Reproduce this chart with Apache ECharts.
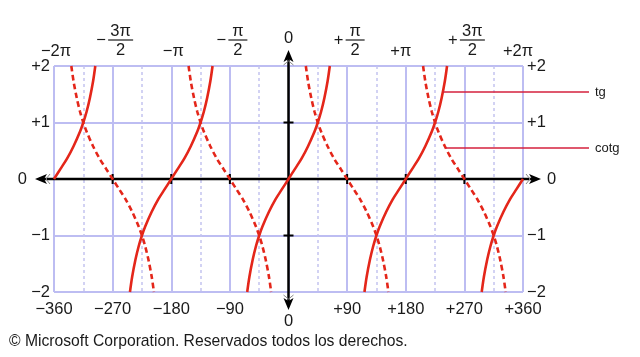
<!DOCTYPE html>
<html><head><meta charset="utf-8">
<script src="https://cdn.jsdelivr.net/npm/echarts@6/dist/echarts.min.js"></script>
<style>html,body{margin:0;padding:0;background:#fff}#c{width:640px;height:357px}</style>
</head><body><div id="c"></div>
<script>
// tick positions (degrees) and labels
const degTicks = [-360,-270,-180,-90,0,90,180,270,360];
const degLabels = ['−360','−270','−180','−90','0','+90','+180','+270','+360'];
const piSigns = ['−','−','−','−','','+','+','+','+'];
const piNums  = ['2π','3π','π','π','0','π','π','3π','2π'];
const piDens  = ['','2','','2','','2','','2',''];
const yTicks  = [2,1,0,-1,-2];
const yLabels = ['+2','+1','0','−1','−2'];

// tangent branches (solid)
const tg1 = [[-360,0],[-350,0.18],[-340,0.36],[-330,0.58],[-320,0.84],[-315,1],[-310,1.19],[-305,1.43],[-300,1.73],[-296.6,2]];
const tg2 = [[-243.4,-2],[-240,-1.73],[-235,-1.43],[-230,-1.19],[-225,-1],[-220,-0.84],[-210,-0.58],[-200,-0.36],[-190,-0.18],[-180,0],[-170,0.18],[-160,0.36],[-150,0.58],[-140,0.84],[-135,1],[-130,1.19],[-125,1.43],[-120,1.73],[-116.6,2]];
const tg3 = [[-63.4,-2],[-60,-1.73],[-55,-1.43],[-50,-1.19],[-45,-1],[-40,-0.84],[-30,-0.58],[-20,-0.36],[-10,-0.18],[0,0],[10,0.18],[20,0.36],[30,0.58],[40,0.84],[45,1],[50,1.19],[55,1.43],[60,1.73],[63.4,2]];
const tg4 = [[116.6,-2],[120,-1.73],[125,-1.43],[130,-1.19],[135,-1],[140,-0.84],[150,-0.58],[160,-0.36],[170,-0.18],[180,0],[190,0.18],[200,0.36],[210,0.58],[220,0.84],[225,1],[230,1.19],[235,1.43],[240,1.73],[243.4,2]];
const tg5 = [[296.6,-2],[300,-1.73],[305,-1.43],[310,-1.19],[315,-1],[320,-0.84],[330,-0.58],[340,-0.36],[350,-0.18],[360,0]];
// cotangent branches (dashed)
const cotg1 = [[-333.4,2],[-330,1.73],[-325,1.43],[-320,1.19],[-315,1],[-310,0.84],[-300,0.58],[-290,0.36],[-280,0.18],[-270,0],[-260,-0.18],[-250,-0.36],[-240,-0.58],[-230,-0.84],[-225,-1],[-220,-1.19],[-215,-1.43],[-210,-1.73],[-206.6,-2]];
const cotg2 = [[-153.4,2],[-150,1.73],[-145,1.43],[-140,1.19],[-135,1],[-130,0.84],[-120,0.58],[-110,0.36],[-100,0.18],[-90,0],[-80,-0.18],[-70,-0.36],[-60,-0.58],[-50,-0.84],[-45,-1],[-40,-1.19],[-35,-1.43],[-30,-1.73],[-26.6,-2]];
const cotg3 = [[26.6,2],[30,1.73],[35,1.43],[40,1.19],[45,1],[50,0.84],[60,0.58],[70,0.36],[80,0.18],[90,0],[100,-0.18],[110,-0.36],[120,-0.58],[130,-0.84],[135,-1],[140,-1.19],[145,-1.43],[150,-1.73],[153.4,-2]];
const cotg4 = [[206.6,2],[210,1.73],[215,1.43],[220,1.19],[225,1],[230,0.84],[240,0.58],[250,0.36],[260,0.18],[270,0],[280,-0.18],[290,-0.36],[300,-0.58],[310,-0.84],[315,-1],[320,-1.19],[325,-1.43],[330,-1.73],[333.4,-2]];
const seriesNames = ['tg','cotg'];
const leaderAnchors = [[237,1.54],[241.5,0.55]];

(function(){
const RED = '#e4261a';
const FONT = 'Liberation Sans, Arial, sans-serif';
const chart = echarts.init(document.getElementById('c'), null, {renderer:'canvas'});

const tgSeries = [tg1,tg2,tg3,tg4,tg5].map(d => ({
  type:'line', data:d, smooth:0.3, symbol:'none', clip:true, z:3,
  lineStyle:{color:RED, width:2.6, type:'solid'}
}));
const cotgSeries = [cotg1,cotg2,cotg3,cotg4].map(d => ({
  type:'line', data:d, smooth:0.3, symbol:'none', clip:true, z:3,
  lineStyle:{color:RED, width:2.6, type:[5.5,3.5]}
}));

function lbl(v){ const i = degTicks.indexOf(v); return (i<0 || degLabels[i]==='0') ? '' : degLabels[i]; }
function ylbl(v){ const i = yTicks.indexOf(v); return (i<0 || yLabels[i]==='0') ? '' : yLabels[i]; }

chart.setOption({
  animation:false,
  backgroundColor:'#fff',
  grid:{left:54, right:117, top:66, bottom:65},
  xAxis:{
    type:'value', min:-360, max:360, interval:90, position:'bottom',
    axisLine:{show:false, onZero:false}, axisTick:{show:false},
    axisLabel:{formatter:lbl, fontSize:16.5, fontFamily:FONT, color:'#1a1a1a', margin:9, showMinLabel:true, showMaxLabel:true},
    splitLine:{show:true, lineStyle:{color:'#bdbdf2', width:2}},
    minorTick:{show:false, splitNumber:2},
    minorSplitLine:{show:true, lineStyle:{color:'#c4c4f0', width:1.5, type:[3,3]}}
  },
  yAxis:[{
    type:'value', min:-2, max:2, interval:1, position:'left',
    axisLine:{show:false, onZero:false}, axisTick:{show:false},
    axisLabel:{formatter:ylbl, fontSize:16.5, fontFamily:FONT, color:'#1a1a1a', margin:4},
    splitLine:{show:true, lineStyle:{color:'#bdbdf2', width:2}}
  },{
    type:'value', min:-2, max:2, interval:1, position:'right',
    axisLine:{show:false, onZero:false}, axisTick:{show:false},
    axisLabel:{formatter:ylbl, fontSize:16.5, fontFamily:FONT, color:'#1a1a1a', margin:4},
    splitLine:{show:false}
  }],
  series: tgSeries.concat(cotgSeries)
});

function px(p){ return chart.convertToPixel({gridIndex:0}, p); }
const o = px([0,0]);
const gl = px([-360,0])[0], gr = px([360,0])[0];
const gt = px([0,2])[1], gb = px([0,-2])[1];
const ox = o[0], oy = o[1];
const g = [];
const BLACK = '#000';
const xl = gl-19, xr = gr+18, yt = gt-16, yb = gb+18;
g.push({type:'line', z:2, shape:{x1:xl+4,y1:oy,x2:xr-4,y2:oy}, style:{stroke:BLACK, lineWidth:2.5}});
g.push({type:'line', z:2, shape:{x1:ox,y1:yt+4,x2:ox,y2:yb-4}, style:{stroke:BLACK, lineWidth:2.5}});
function arrow(tx,ty,dx,dy){
  const L=12, W=5, nx=-dy, ny=dx;
  const b=[tx-dx*L, ty-dy*L], m=[tx-dx*(L-3), ty-dy*(L-3)];
  g.push({type:'polygon', z:2, shape:{points:[[tx,ty],[b[0]+nx*W,b[1]+ny*W],m,[b[0]-nx*W,b[1]-ny*W]]}, style:{fill:BLACK}});
  g.push({type:'polyline', z:2, shape:{points:[[b[0]+nx*W-dx*3,b[1]+ny*W-dy*3],[m[0]-dx*2,m[1]-dy*2],[b[0]-nx*W-dx*3,b[1]-ny*W-dy*3]]}, style:{stroke:'#888', lineWidth:1, fill:null}});
}
arrow(xl,oy,-1,0); arrow(xr,oy,1,0); arrow(ox,yt,0,-1); arrow(ox,yb,0,1);
degTicks.forEach(v => { if (v===0 || Math.abs(v)===360) return; const x = px([v,0])[0];
  g.push({type:'line', z:2, shape:{x1:x,y1:oy-5,x2:x,y2:oy+5}, style:{stroke:BLACK, lineWidth:2}}); });
yTicks.forEach(v => { if (v===0 || Math.abs(v)===2) return; const y = px([0,v])[1];
  g.push({type:'line', z:2, shape:{x1:ox-5,y1:y,x2:ox+5,y2:y}, style:{stroke:BLACK, lineWidth:2}}); });
const tf = '16.5px '+FONT;
function txt(t,x,y,align,font){ g.push({type:'text', z:4, x:x, y:y, style:{text:t, font:font||tf, fill:'#1a1a1a', align:align||'center', verticalAlign:'middle'}}); }
txt('0', ox, 321); txt('0', ox, 38); txt('0', xl-8, oy, 'right'); txt('0', xr+6, oy, 'left');
degTicks.forEach((v,i) => {
  if (piNums[i]==='0') return;
  const x = px([v,0])[0];
  if (!piDens[i]) { txt(piSigns[i]+piNums[i], x - (v>0?5:-2), 51); return; }
  const fx = x + 8, bw = piNums[i].length>1 ? 25 : 19;
  txt(piSigns[i], fx - bw/2 - 7, 40);
  txt(piNums[i], fx, 31);
  g.push({type:'line', z:4, shape:{x1:fx-bw/2,y1:40,x2:fx+bw/2,y2:40}, style:{stroke:'#1a1a1a', lineWidth:1.2}});
  txt(piDens[i], fx, 50);
});
leaderAnchors.forEach((a,i) => {
  const p = px(a);
  g.push({type:'line', z:4, shape:{x1:p[0],y1:p[1],x2:589,y2:p[1]}, style:{stroke:'#d4203c', lineWidth:1.6}});
  txt(seriesNames[i], 595, p[1], 'left', '13px '+FONT);
});
txt('© Microsoft Corporation. Reservados todos los derechos.', 9, 342, 'left', '15.7px '+FONT);
chart.setOption({graphic:{elements:g}});
})();
</script></body></html>
